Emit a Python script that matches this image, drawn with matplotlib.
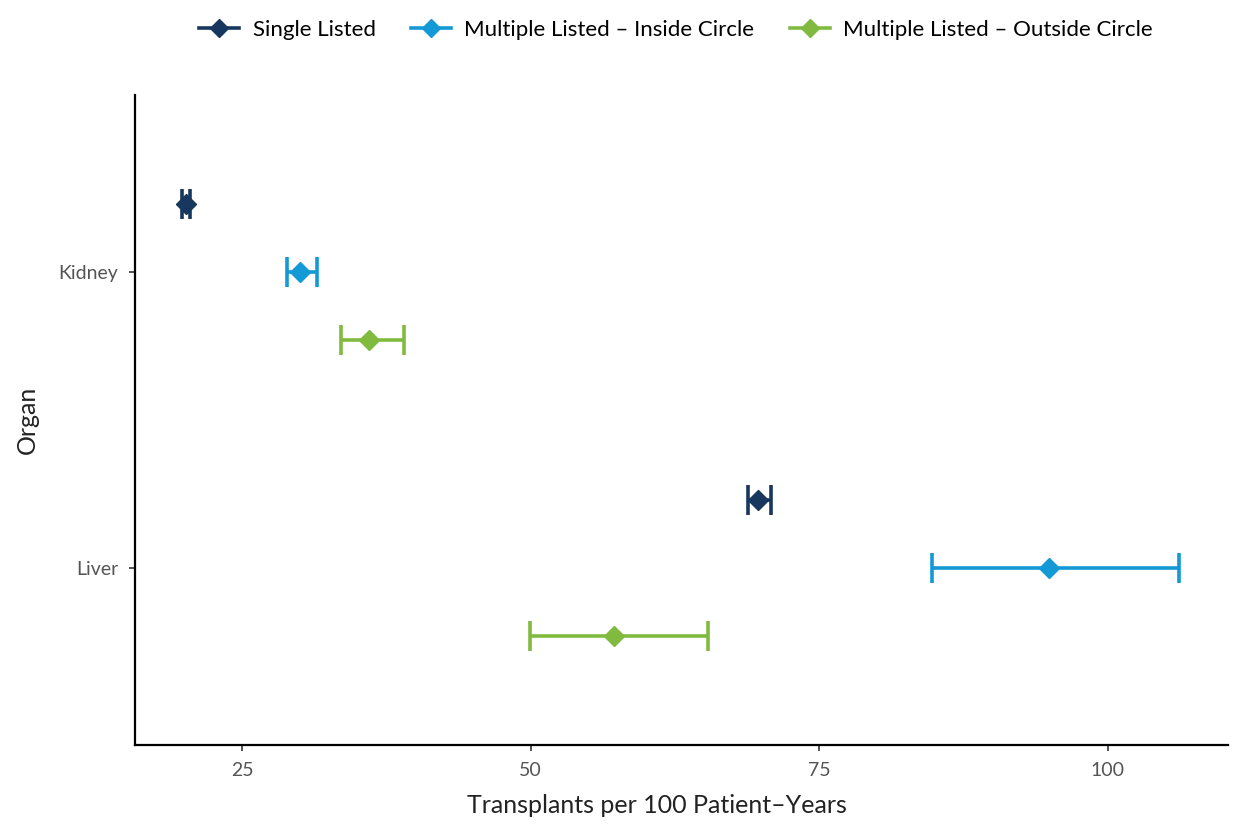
import numpy as np
import matplotlib.pyplot as plt
from matplotlib.lines import Line2D

plt.rcParams['font.family'] = ['Lato', 'DejaVu Sans']

# ---- data ----
organs = ['Kidney', 'Liver']
groups = ['Single Listed', 'Multiple Listed \u2013 Inside Circle',
          'Multiple Listed \u2013 Outside Circle']
colors = ['#17375E', '#139AD6', '#80BA3F']

rate = {
    'Single Listed': [20.15, 69.7],
    'Multiple Listed \u2013 Inside Circle': [30.0, 94.9],
    'Multiple Listed \u2013 Outside Circle': [36.0, 57.2],
}
lower = {
    'Single Listed': [19.8, 68.8],
    'Multiple Listed \u2013 Inside Circle': [28.9, 84.8],
    'Multiple Listed \u2013 Outside Circle': [33.6, 49.9],
}
upper = {
    'Single Listed': [20.5, 70.8],
    'Multiple Listed \u2013 Inside Circle': [31.5, 106.2],
    'Multiple Listed \u2013 Outside Circle': [39.0, 65.4],
}

# ---- figure ----
fig = plt.figure(figsize=(12.36, 8.25), dpi=100)
ax = fig.add_axes([0.109, 0.097, 0.8845, 0.788])

ypos = {'Kidney': 2, 'Liver': 1}
offsets = [0.23, 0.0, -0.23]

for g, col, off in zip(groups, colors, offsets):
    y = np.array([ypos[o] for o in organs]) + off
    x = np.array(rate[g])
    lo = x - np.array(lower[g])
    hi = np.array(upper[g]) - x
    ax.errorbar(x, y, xerr=[lo, hi], fmt='none', ecolor=col,
                elinewidth=2.6, capsize=11, capthick=2.6, zorder=2)
    ax.plot(x, y, 'D', color=col, markersize=10, zorder=3)

ax.set_xlim(15.7, 110.4)
ax.set_ylim(0.4, 2.6)
ax.set_xticks([25, 50, 75, 100])
ax.set_yticks([2, 1])
ax.set_yticklabels(organs)

for s in ['top', 'right']:
    ax.spines[s].set_visible(False)
for s in ['left', 'bottom']:
    ax.spines[s].set_linewidth(1.6)
    ax.spines[s].set_color('black')

ax.tick_params(axis='both', colors='#333333', labelcolor='#555555',
               labelsize=14, length=4, width=1.2, pad=8)
ax.set_xlabel('Transplants per 100 Patient\u2013Years', fontsize=18,
              color='#222222', labelpad=12)
ax.xaxis.set_label_coords(0.478, -0.075)
ax.set_ylabel('Organ', fontsize=18, color='#222222', labelpad=14)

handles = [Line2D([0], [0], color=c, lw=2.6, marker='D', markersize=9)
           for c in colors]
fig.legend(handles, groups, loc='upper center', bbox_to_anchor=(0.547, 1.0),
           ncol=3, frameon=False, fontsize=16, handlelength=1.8,
           columnspacing=1.6, handletextpad=0.6)

fig.savefig('out.png', dpi=100)
